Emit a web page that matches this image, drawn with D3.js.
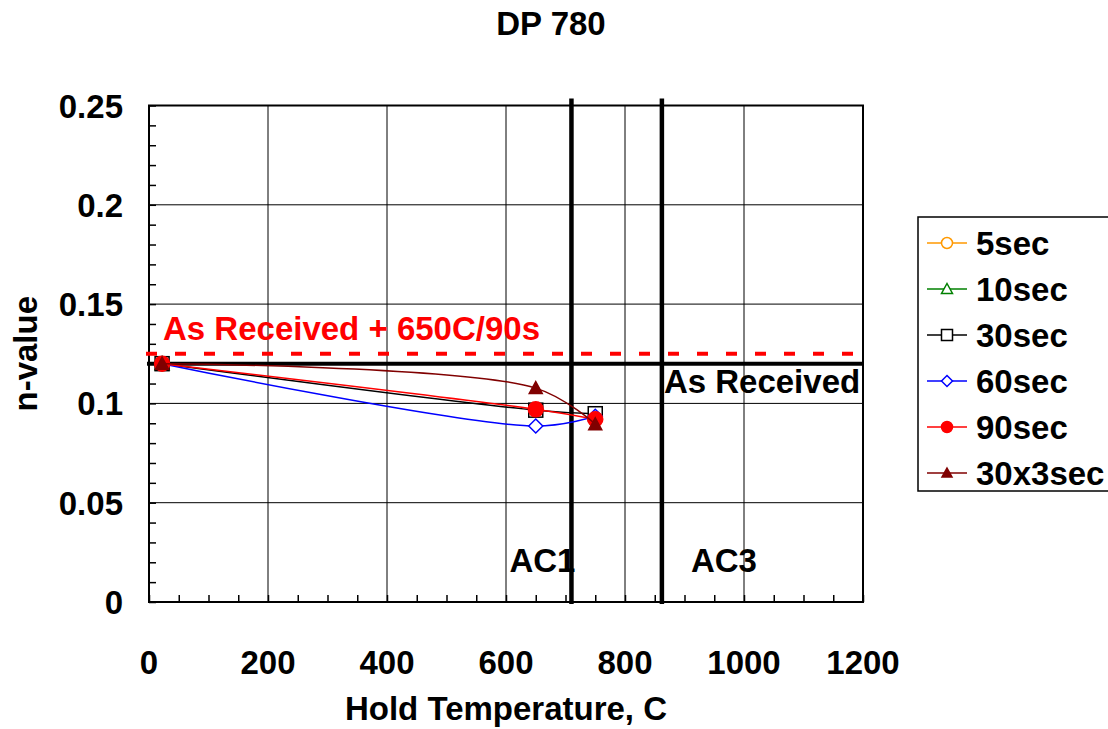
<!DOCTYPE html>
<html>
<head>
<meta charset="utf-8">
<title>DP 780</title>
<script src="https://d3js.org/d3.v7.min.js"></script>
<style>
body { margin: 0; background: #fff; }
text { font-family: "Liberation Sans", Arial, sans-serif; font-weight: bold; }
</style>
</head>
<body>
<script>
// hold temperatures (C) and n-values per series
var temps = [22, 650, 750];
var seriesNames = ["5sec", "10sec", "30sec", "60sec", "90sec", "30x3sec"];
var v5 = [0.12];
var v10 = [0.12];
var v30 = [0.12, 0.0966, 0.0948];
var v60 = [0.12, 0.0886, 0.0935];
var v90 = [0.12, 0.097, 0.092];
var v30x3 = [0.12, 0.1077, 0.0895];
var xTicks = [0, 200, 400, 600, 800, 1000, 1200];
var yTicks = [0, 0.05, 0.1, 0.15, 0.2, 0.25];
var asReceived = 0.12, asReceived650 = 0.125;
var ac1 = 710, ac3 = 862;

var colors = ["#ff9900", "#008000", "#000000", "#0000ff", "#ff0000", "#800000"];
var shapes = ["circleOpen", "triangleOpen", "squareOpen", "diamondOpen", "circleFill", "triangleFill"];
var values = [v5, v10, v30, v60, v90, v30x3];

var margin = {top: 105.5, left: 149},
    w = 714, h = 496.5;
var fs = "33px";

var svg = d3.select("body").append("svg")
    .attr("width", 1108).attr("height", 729);

svg.append("text").attr("x", 551).attr("y", 35)
    .attr("text-anchor", "middle").style("font-size", fs).text("DP 780");

var g = svg.append("g").attr("transform", "translate(" + margin.left + "," + margin.top + ")");

var x = d3.scaleLinear().domain([0, 1200]).range([0, w]);
var y = d3.scaleLinear().domain([0, 0.25]).range([h, 0]);

// grid
g.append("g").selectAll("line").data(xTicks.slice(1, -1)).enter().append("line")
    .attr("x1", x).attr("x2", x).attr("y1", 0).attr("y2", h)
    .attr("stroke", "#000").attr("stroke-width", 1);
g.append("g").selectAll("line").data(yTicks.slice(1, -1)).enter().append("line")
    .attr("y1", y).attr("y2", y).attr("x1", 0).attr("x2", w)
    .attr("stroke", "#000").attr("stroke-width", 1);

// minor ticks, inside
var xAxis = d3.axisTop(x).tickValues(d3.range(0, 1201, 50)).tickSize(7).tickFormat("");
var yAxis = d3.axisRight(y).tickValues(d3.range(0, 0.2501, 0.01)).tickSize(7).tickFormat("");
g.append("g").attr("transform", "translate(0," + h + ")").call(xAxis)
    .call(function(s) { s.select(".domain").remove(); });
g.append("g").call(yAxis).call(function(s) { s.select(".domain").remove(); });
g.selectAll(".tick line").attr("stroke", "#000").attr("stroke-width", 1.5);

// border
g.append("rect").attr("width", w).attr("height", h)
    .attr("fill", "none").attr("stroke", "#000").attr("stroke-width", 2);

// tick labels
g.append("g").selectAll("text").data(xTicks).enter().append("text")
    .attr("x", x).attr("y", h + 72).attr("text-anchor", "middle")
    .style("font-size", fs).text(function(d) { return d; });
g.append("g").selectAll("text").data(yTicks).enter().append("text")
    .attr("x", -26).attr("y", function(d) { return y(d) + 12; }).attr("text-anchor", "end")
    .style("font-size", fs).text(function(d) { return d; });

svg.append("text").attr("x", margin.left + w / 2).attr("y", 720)
    .attr("text-anchor", "middle").style("font-size", fs).text("Hold Temperature, C");
svg.append("text").attr("transform", "translate(37," + (margin.top + h / 2) + ") rotate(-90)")
    .attr("text-anchor", "middle").style("font-size", fs).text("n-value");

// reference lines
g.append("line").attr("x1", x(0) - 3).attr("x2", x(1200))
    .attr("y1", y(asReceived650)).attr("y2", y(asReceived650))
    .attr("stroke", "#ff0000").attr("stroke-width", 4).attr("stroke-dasharray", "11,18");
g.append("line").attr("x1", x(0) - 2).attr("x2", x(1200))
    .attr("y1", y(asReceived)).attr("y2", y(asReceived))
    .attr("stroke", "#000").attr("stroke-width", 4);
[ac1, ac3].forEach(function(t) {
  g.append("line").attr("x1", x(t)).attr("x2", x(t)).attr("y1", -7).attr("y2", h + 2)
    .attr("stroke", "#000").attr("stroke-width", 4.5);
});

g.append("text").attr("x", 14).attr("y", y(asReceived650) - 14)
    .attr("fill", "#ff0000").style("font-size", fs).text("As Received + 650C/90s");
g.append("text").attr("x", x(ac3) + 2).attr("y", y(asReceived) + 29)
    .style("font-size", fs).text("As Received");
g.append("text").attr("x", x(ac1) - 62).attr("y", h - 30)
    .style("font-size", fs).text("AC1");
g.append("text").attr("x", x(ac3) + 29).attr("y", h - 30)
    .style("font-size", fs).text("AC3");

// markers
function marker(sel, shape, color, s) {
  if (shape.indexOf("circle") == 0) {
    sel.append("circle").attr("r", s / 2);
  } else if (shape.indexOf("square") == 0) {
    sel.append("rect").attr("x", -s / 2).attr("y", -s / 2).attr("width", s).attr("height", s);
  } else if (shape.indexOf("diamond") == 0) {
    sel.append("path").attr("d", "M0," + (-s / 2) + "L" + (s / 2) + ",0L0," + (s / 2) + "L" + (-s / 2) + ",0Z");
  } else {
    sel.append("path").attr("d", "M0," + (-s / 2) + "L" + (s / 2) + "," + (s / 2 - 1) + "L" + (-s / 2) + "," + (s / 2 - 1) + "Z");
  }
  var fill = shape.indexOf("Fill") > 0 ? color : "#fff";
  sel.selectAll("*").attr("fill", fill).attr("stroke", color).attr("stroke-width", 1.5);
}

var line = d3.line().curve(d3.curveCatmullRom.alpha(0.5))
    .x(function(d) { return x(d[0]); }).y(function(d) { return y(d[1]); });
var markerSize = [14, 14, 14, 14, 15, 13];

values.forEach(function(vals, i) {
  var pts = vals.map(function(v, j) { return [temps[j], v]; });
  if (pts.length > 1) {
    g.append("path").datum(pts).attr("d", line)
      .attr("fill", "none").attr("stroke", colors[i]).attr("stroke-width", 1.5);
  }
  pts.forEach(function(p) {
    var m = g.append("g").attr("transform", "translate(" + x(p[0]) + "," + y(p[1]) + ")");
    marker(m, shapes[i], colors[i], markerSize[i]);
  });
});

// legend
var lg = svg.append("g").attr("transform", "translate(918,217)");
lg.append("rect").attr("width", 200).attr("height", 274)
  .attr("fill", "#fff").attr("stroke", "#000").attr("stroke-width", 1.5);
seriesNames.forEach(function(name, i) {
  var cy = 26 + i * 46;
  lg.append("line").attr("x1", 9).attr("x2", 49).attr("y1", cy).attr("y2", cy)
    .attr("stroke", colors[i]).attr("stroke-width", 1.5);
  var m = lg.append("g").attr("transform", "translate(29," + cy + ")");
  marker(m, shapes[i], colors[i], shapes[i] == "triangleFill" ? 10 : 11);
  lg.append("text").attr("x", 58).attr("y", cy + 12).style("font-size", fs).text(name);
});
</script>
</body>
</html>
